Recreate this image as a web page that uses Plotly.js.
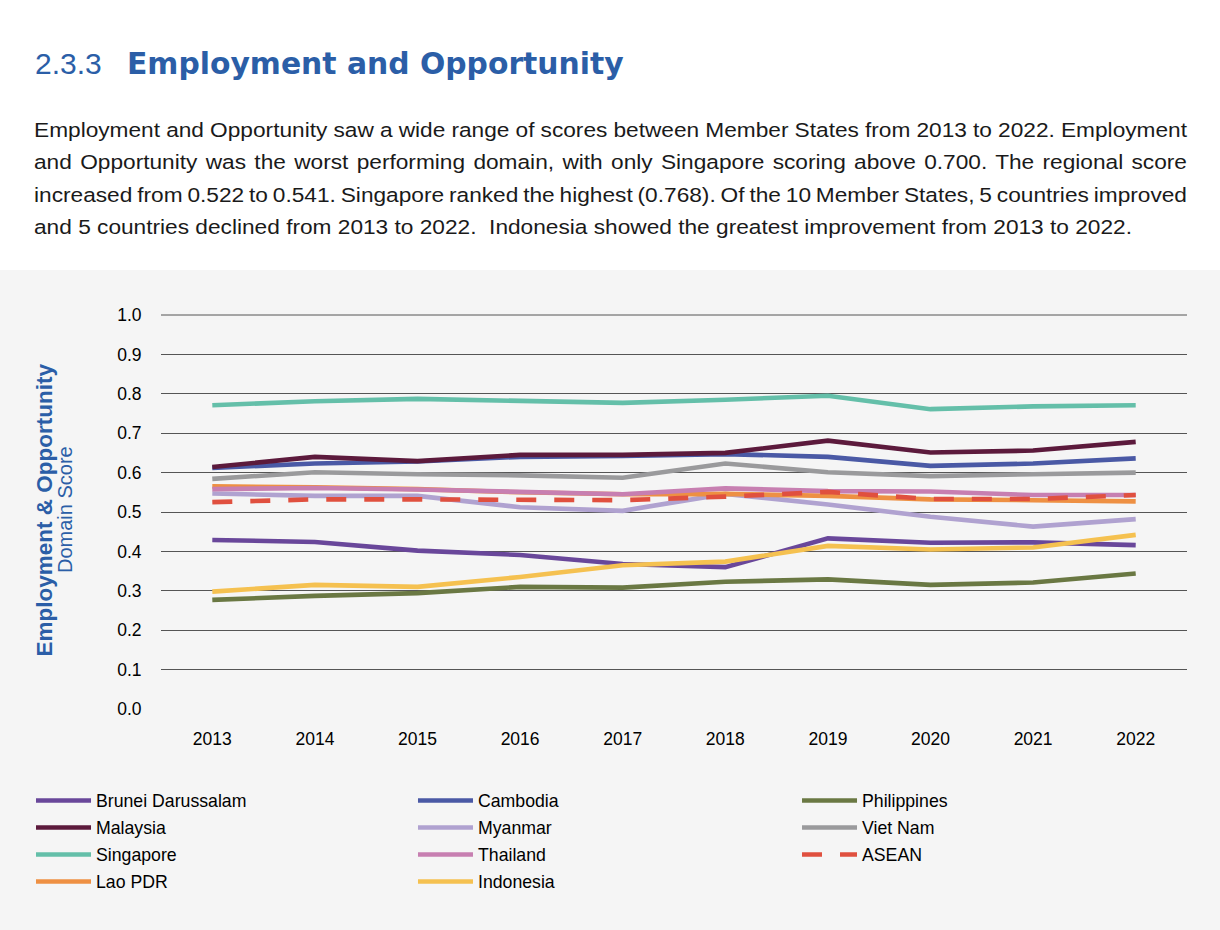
<!DOCTYPE html>
<html><head><meta charset="utf-8">
<script src="https://cdn.plot.ly/plotly-3.0.1.min.js"></script>
<style>
body{margin:0;width:1220px;height:930px;background:#fff;position:relative;overflow:hidden;font-family:"Liberation Sans",Arial,Helvetica,sans-serif;}
.hn{position:absolute;left:35px;top:43.6px;font-size:30px;line-height:40px;color:#2b5ea7;white-space:nowrap;font-family:"Liberation Sans",Arial,sans-serif;}
.ht{position:absolute;left:127px;top:43.7px;font-size:29.8px;line-height:40px;color:#2b5ea7;white-space:nowrap;font-family:"DejaVu Sans",sans-serif;font-weight:bold;}
#para{position:absolute;left:34px;top:113.5px;width:1160px;font-size:20.5px;line-height:32.5px;color:#1a1a1a;}
#para div{height:32.5px;}
#para .ln{display:inline-block;white-space:nowrap;transform-origin:0 50%;}
#chart{position:absolute;left:0;top:270px;width:1220px;height:660px;}
</style>
</head><body>
<div class="hn">2.3.3</div>
<div class="ht">Employment and Opportunity</div>
<div id="para">
<div><span class="ln" data-w="1153">Employment and Opportunity saw a wide range of scores between Member States from 2013 to 2022. Employment</span></div>
<div><span class="ln" data-w="1153">and Opportunity was the worst performing domain, with only Singapore scoring above 0.700. The regional score</span></div>
<div><span class="ln" data-w="1153">increased from 0.522 to 0.541. Singapore ranked the highest (0.768). Of the 10 Member States, 5 countries improved</span></div>
<div><span class="ln" data-w="1098">and 5 countries declined from 2013 to 2022.&nbsp; Indonesia showed the greatest improvement from 2013 to 2022.</span></div>
</div>
<div id="chart"></div>
<script>
// typography only: widen glyphs like the reference face, then justify lines 1-3
(function(){
  const lines = Array.from(document.querySelectorAll('#para .ln'));
  const last = lines[lines.length - 1];
  const k = (+last.dataset.w) / last.getBoundingClientRect().width;
  lines.forEach(el => {
    el.style.transform = 'scaleX(' + k + ')';
    if (el === last) return;
    const w = el.getBoundingClientRect().width / k;
    const spaces = (el.textContent.match(/ /g) || []).length;
    const extra = (+el.dataset.w) / k - w;
    el.style.wordSpacing = (extra / spaces) + 'px';
  });
})();
</script>
<script>
const years = ['2013','2014','2015','2016','2017','2018','2019','2020','2021','2022'];
const yTickVals = [0,0.1,0.2,0.3,0.4,0.5,0.6,0.7,0.8,0.9,1.0];

const brunei      = [0.429,0.424,0.402,0.391,0.368,0.360,0.433,0.422,0.423,0.416];
const cambodia    = [0.612,0.623,0.628,0.640,0.642,0.647,0.640,0.617,0.623,0.636];
const philippines = [0.277,0.287,0.294,0.310,0.308,0.323,0.329,0.315,0.321,0.344];
const malaysia    = [0.614,0.640,0.629,0.645,0.645,0.650,0.681,0.651,0.656,0.678];
const myanmar     = [0.547,0.541,0.541,0.512,0.503,0.546,0.519,0.488,0.463,0.482];
const vietnam     = [0.584,0.601,0.596,0.593,0.587,0.623,0.601,0.591,0.596,0.600];
const singapore   = [0.771,0.781,0.787,0.783,0.777,0.785,0.795,0.761,0.768,0.771];
const laopdr      = [0.565,0.563,0.558,0.550,0.545,0.546,0.541,0.532,0.530,0.527];
const thailand    = [0.558,0.561,0.557,0.550,0.545,0.560,0.553,0.552,0.543,0.543];
const indonesia   = [0.298,0.315,0.310,0.335,0.365,0.374,0.414,0.405,0.410,0.442];
const asean       = [0.525,0.532,0.532,0.530,0.530,0.539,0.551,0.533,0.533,0.543];

const series = [
  {name:'Brunei Darussalam', y:brunei,      color:'#69479a', legend:'legend'},
  {name:'Cambodia',          y:cambodia,    color:'#4a59a5', legend:'legend2'},
  {name:'Philippines',       y:philippines, color:'#6a7843', legend:'legend3'},
  {name:'Malaysia',          y:malaysia,    color:'#5c1a3c', legend:'legend'},
  {name:'Myanmar',           y:myanmar,     color:'#b0a2d0', legend:'legend2'},
  {name:'Viet Nam',          y:vietnam,     color:'#9a9a9c', legend:'legend3'},
  {name:'Singapore',         y:singapore,   color:'#64bfa9', legend:'legend'},
  {name:'Lao PDR',           y:laopdr,      color:'#ee9043', legend:'legend'},
  {name:'Thailand',          y:thailand,    color:'#c77fb1', legend:'legend2'},
  {name:'Indonesia',         y:indonesia,   color:'#f5c150', legend:'legend2'},
  {name:'ASEAN',             y:asean,       color:'#e0503f', legend:'legend3', dash:'20px,18px'}
];

const traces = series.map(s => ({
  type:'scatter', mode:'lines', x:years, y:s.y, name:s.name,
  line:{color:s.color, width:4.6, dash:s.dash || 'solid'},
  legend:s.legend, legendgroup:s.name, hoverinfo:'skip'
}));

const FONT = '"Liberation Sans", Arial, Helvetica, sans-serif';
const GRID = '#555';
const legBase = {
  orientation:'v', xanchor:'left', yanchor:'top', y:-0.1865,
  bgcolor:'rgba(0,0,0,0)', borderwidth:0,
  font:{size:17.7, color:'#000', family:FONT},
  itemwidth:55, tracegroupgap:1, traceorder:'grouped'
};

const layout = {
  width:1220, height:660,
  margin:{l:161, r:33, t:45, b:221, pad:0},
  paper_bgcolor:'#f5f5f5', plot_bgcolor:'#f5f5f5',
  font:{family:FONT, color:'#000'},
  showlegend:true,
  xaxis:{type:'category', range:[-0.5,9.5], showgrid:false, zeroline:false, showline:false,
         ticks:'outside', ticklen:14, tickcolor:'rgba(0,0,0,0)',
         tickfont:{size:17.5, color:'#000', family:FONT}, fixedrange:true},
  yaxis:{range:[0,1], tickvals:yTickVals, tickformat:'.1f', showgrid:true, gridcolor:GRID, gridwidth:1,
         zeroline:false, showline:false, ticks:'outside', ticklen:15, tickcolor:'rgba(0,0,0,0)',
         tickfont:{size:17.5, color:'#000', family:FONT}, fixedrange:true},
  shapes:[
    {type:'line', xref:'paper', yref:'paper', x0:0, x1:1, y0:1, y1:1, line:{color:GRID, width:1}, layer:'below'}
  ],
  legend: Object.assign({}, legBase, {x:-0.1267}),
  legend2: Object.assign({}, legBase, {x:0.2456}),
  legend3: Object.assign({}, legBase, {x:0.6199}),
  annotations:[
    {text:'<b>Employment &amp; Opportunity</b>', xref:'paper', yref:'paper', x:0, y:0.505,
     xshift:44.5-161, textangle:-90, showarrow:false, xanchor:'center', yanchor:'middle',
     font:{size:22.5, color:'#2b5ea7', family:FONT}},
    {text:'Domain Score', xref:'paper', yref:'paper', x:0, y:0.505,
     xshift:65-161, textangle:-90, showarrow:false, xanchor:'center', yanchor:'middle',
     font:{size:20, color:'#2b5ea7', family:FONT}}
  ]
};

Plotly.newPlot('chart', traces, layout, {displayModeBar:false, staticPlot:true});
</script>
</body></html>
